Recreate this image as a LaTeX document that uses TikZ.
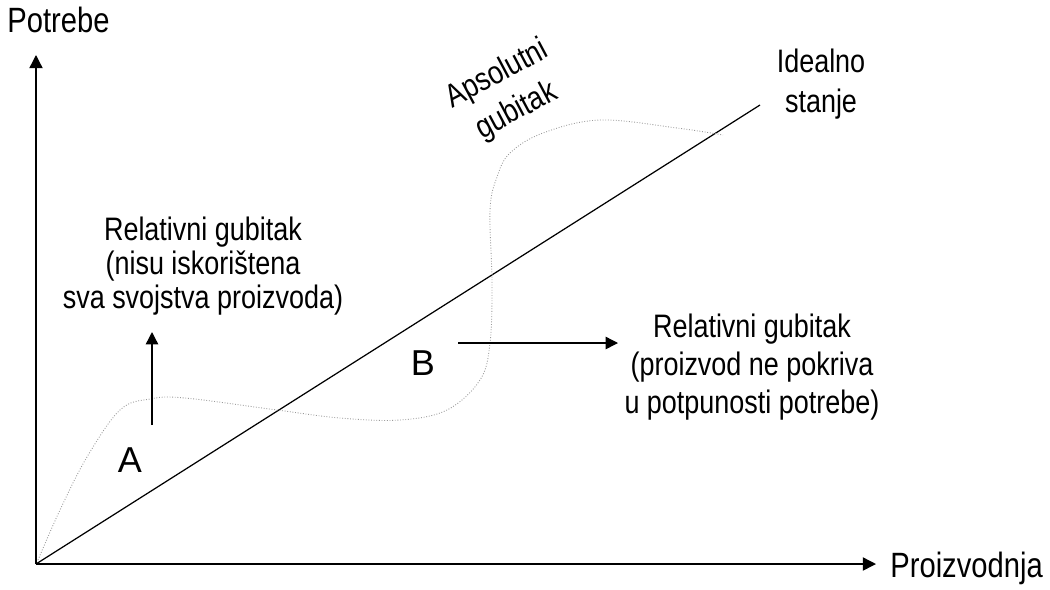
\documentclass[tikz,border=0pt]{standalone}
\usepackage{fontspec}
\setmainfont{Liberation Sans}[FakeStretch=0.83]
\newfontfamily\letterfont{Liberation Sans}
\usetikzlibrary{arrows.meta}

\begin{document}
\begin{tikzpicture}[x=0.02cm,y=-0.02cm,
  axis/.style={line width=0.8pt,-{Triangle[length=7.5pt,width=7.5pt]}},
  pointer/.style={line width=0.8pt,-{Triangle[length=7pt,width=7pt]}},
  txt/.style={font=\fontsize{18.5}{19.5}\selectfont,align=center,inner sep=0pt},
  axistxt/.style={font=\fontsize{20}{22}\selectfont,inner sep=0pt},
  letter/.style={font=\letterfont\fontsize{20.5}{24}\selectfont,inner sep=0pt},
  need/.style={gray!80,densely dotted,line width=0.5pt}]
\useasboundingbox (0,0) rectangle (1050,589);
\coordinate (O) at (36,564);
\coordinate (Ytop) at (36,55);
\coordinate (Xend) at (876,564);
\coordinate (Ideal) at (760,105);
\draw[axis] (O) -- (Ytop); %vertical axis
\draw[axis] (O) -- (Xend); %horizontal axis
\draw[line width=0.7pt] (O) -- (Ideal); %ideal line
\draw[need] plot[smooth,tension=0.6] coordinates {(38,560) (60,510) (87,457) (120,410) (150,399) (185,398) (277,410) (340,418) (400,420) (447,410) (480,380) (490,343) (492,283) (490,210) (497,177) (510,153) (543,133) (600,120) (677,128) (723,135)}; %needs curve
\node[axistxt,anchor=base west] (potrebe) at (7,32) {Potrebe};
\node[axistxt,anchor=base west] (proizvodnja) at (890,577) {Proizvodnja};
\node[txt,font=\fontsize{18.5}{22.8}\selectfont] (idealno) at (821,84) {Idealno\\stanje};
\node[txt,rotate=28,font=\fontsize{18.5}{23.5}\selectfont] (apsolutni) at (507,93) {Apsolutni\\gubitak};
\node[txt] (relA) at (203,266) {Relativni gubitak\\(nisu iskorištena\\sva svojstva proizvoda)};
\node[txt,font=\fontsize{18.5}{21.6}\selectfont] (relB) at (752,367) {Relativni gubitak\\(proizvod ne pokriva\\u potpunosti potrebe)};
\node[letter] (A) at (130,460) {A};
\node[letter] (B) at (423,363) {B};
\coordinate (A1) at (152,425);
\coordinate (A2) at (152,332);
\draw[pointer] (A1) -- (A2); %arrow A
\coordinate (B1) at (458,343);
\coordinate (B2) at (618,343);
\draw[pointer] (B1) -- (B2); %arrow B
\end{tikzpicture}
\end{document}
